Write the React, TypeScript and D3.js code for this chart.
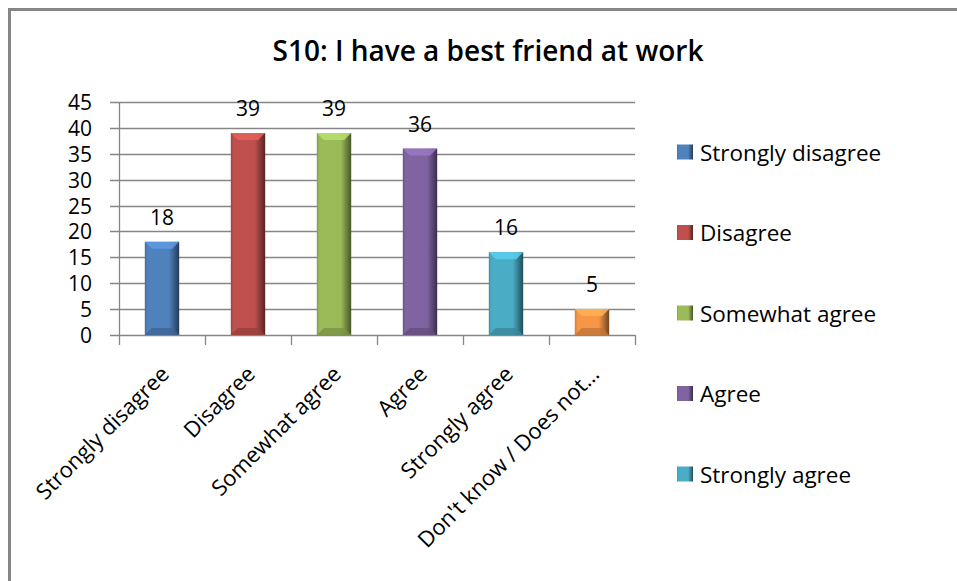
import React, { useEffect, useRef } from 'react';
import * as d3 from 'd3';

const categories = ['Strongly disagree', 'Disagree', 'Somewhat agree', 'Agree', 'Strongly agree', "Don't know / Does not…"];
const values = [18, 39, 39, 36, 16, 5];
const colors = ['#4F81BD', '#C0504D', '#9BBB59', '#8064A2', '#4BACC6', '#F79646'];
const legendItems = ['Strongly disagree', 'Disagree', 'Somewhat agree', 'Agree', 'Strongly agree'];
const yTicks = [0, 5, 10, 15, 20, 25, 30, 35, 40, 45];

const FONT = '"Open Sans", Lato, sans-serif';

const App: React.FC = () => {
  const ref = useRef<SVGSVGElement | null>(null);

  useEffect(() => {
    if (!ref.current) return;
    const svg = d3.select(ref.current);
    svg.selectAll('*').remove();

    const plot = { left: 119, right: 635, top: 102, bottom: 335 };

    const x = d3.scaleBand().domain(categories).range([plot.left, plot.right]).paddingInner(0);
    const y = d3.scaleLinear().domain([0, 45]).range([plot.bottom, plot.top]);
    const barW = x.bandwidth() * 0.4;

    // gradients for the bevelled bars
    const defs = svg.append('defs');
    colors.forEach((c, i) => {
      const g = defs.append('linearGradient').attr('id', `bar${i}`).attr('x1', 0).attr('x2', 1).attr('y1', 0).attr('y2', 0);
      g.append('stop').attr('offset', '0%').attr('stop-color', d3.color(c)!.darker(0.5).formatHex());
      g.append('stop').attr('offset', '8%').attr('stop-color', c);
      g.append('stop').attr('offset', '70%').attr('stop-color', c);
      g.append('stop').attr('offset', '85%').attr('stop-color', d3.color(c)!.darker(0.9).formatHex());
      g.append('stop').attr('offset', '100%').attr('stop-color', d3.color(c)!.darker(2.2).formatHex());
    });

    // frame
    svg.append('line').attr('x1', 9.5).attr('x2', 9.5).attr('y1', 8).attr('y2', 581)
      .attr('stroke', '#868686').attr('stroke-width', 3);
    svg.append('line').attr('x1', 8).attr('x2', 957).attr('y1', 9.5).attr('y2', 9.5)
      .attr('stroke', '#868686').attr('stroke-width', 3);

    // title
    svg.append('text')
      .attr('x', 488).attr('y', 61)
      .attr('text-anchor', 'middle')
      .style('font-family', FONT).style('font-weight', 600).style('font-size', '28px')
      .text('S10: I have a best friend at work');

    // gridlines + y ticks
    svg.append('g').selectAll('line')
      .data(yTicks)
      .enter().append('line')
      .attr('x1', plot.left - 9).attr('x2', plot.right)
      .attr('y1', d => Math.round(y(d)) + 0.5).attr('y2', d => Math.round(y(d)) + 0.5)
      .attr('stroke', '#868686').attr('stroke-width', 1.3);

    svg.append('g').selectAll('text')
      .data(yTicks)
      .enter().append('text')
      .attr('x', 92).attr('y', d => y(d))
      .attr('text-anchor', 'end').attr('dominant-baseline', 'central')
      .style('font-family', FONT).style('font-size', '21px')
      .text(d => d);

    // axes
    svg.append('line').attr('x1', plot.left + 0.5).attr('x2', plot.left + 0.5)
      .attr('y1', plot.top).attr('y2', plot.bottom + 10)
      .attr('stroke', '#868686').attr('stroke-width', 1.3);

    const bounds = categories.map(c => (x(c) ?? 0) + x.bandwidth());
    svg.append('g').selectAll('line')
      .data(bounds)
      .enter().append('line')
      .attr('x1', d => Math.round(d) + 0.5).attr('x2', d => Math.round(d) + 0.5)
      .attr('y1', plot.bottom).attr('y2', plot.bottom + 10)
      .attr('stroke', '#868686').attr('stroke-width', 1.3);

    // bars
    const bars = svg.append('g').selectAll('g')
      .data(values)
      .enter().append('g');

    bars.each(function (v, i) {
      const g = d3.select(this);
      const cx = (x(categories[i]) ?? 0) + x.bandwidth() / 2;
      const x0 = cx - barW / 2;
      const y0 = y(v);
      const h = plot.bottom - y0;
      const b = Math.min(7, h / 3);
      g.append('rect').attr('x', x0).attr('y', y0).attr('width', barW).attr('height', h)
        .attr('fill', `url(#bar${i})`);
      // top bevel
      g.append('polygon')
        .attr('points', `${x0},${y0} ${x0 + barW},${y0} ${x0 + barW - b},${y0 + b} ${x0 + b},${y0 + b}`)
        .attr('fill', d3.color(colors[i])!.brighter(0.5).formatHex()).attr('opacity', 0.85);
      // bottom bevel
      g.append('polygon')
        .attr('points', `${x0},${plot.bottom} ${x0 + barW},${plot.bottom} ${x0 + barW - b},${plot.bottom - b} ${x0 + b},${plot.bottom - b}`)
        .attr('fill', d3.color(colors[i])!.darker(0.7).formatHex()).attr('opacity', 0.8);
      // data label
      g.append('text')
        .attr('x', cx).attr('y', y0 - 17)
        .attr('text-anchor', 'middle')
        .style('font-family', FONT).style('font-size', '21px')
        .text(v);
    });

    // x labels
    svg.append('g').selectAll('text')
      .data(categories)
      .enter().append('text')
      .attr('transform', d => `translate(${(x(d) ?? 0) + x.bandwidth() / 2 - 5},${plot.bottom + 27}) rotate(-45)`)
      .attr('text-anchor', 'end')
      .attr('dominant-baseline', 'hanging')
      .style('font-family', FONT).style('font-size', '22px')
      .text(d => d);

    // legend
    const leg = svg.append('g').selectAll('g')
      .data(legendItems)
      .enter().append('g')
      .attr('transform', (d, i) => `translate(677,${152 + i * 80.5})`);
    leg.append('rect').attr('x', 0).attr('y', -7.5).attr('width', 16).attr('height', 15)
      .attr('fill', (d, i) => `url(#bar${i})`);
    leg.append('text')
      .attr('x', 23).attr('y', 0)
      .attr('dominant-baseline', 'central')
      .style('font-family', FONT).style('font-size', '22.5px')
      .text(d => d);
  }, []);

  return (
    <svg ref={ref} width={957} height={581}
      style={{ position: 'absolute', left: 0, top: 0, background: '#fff' }} />
  );
};

export default App;
